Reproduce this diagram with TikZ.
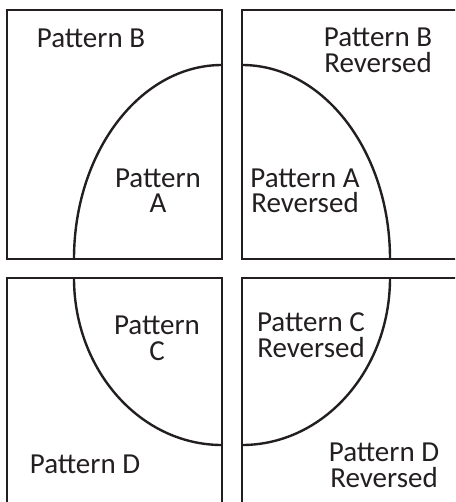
\documentclass[tikz,border=0pt]{standalone}
\usepackage{fontspec}
\setmainfont{Carlito}
\usepackage{tikz}
\definecolor{ink}{HTML}{231F20}

\begin{document}
\begin{tikzpicture}[x=1pt,y=-1pt,line width=2.4pt,draw=ink,
    lbl/.style={text=ink,inner sep=0pt,anchor=base,align=center,
      font=\fontsize{29}{25.7}\selectfont}]
      \useasboundingbox (0,0) rectangle (455,502);
      \clip (0,0) rectangle (455,502);

      % the four boxes
      \draw (7,10) rectangle (222,259);
      \draw (456,10) -- (242,10) -- (242,259) -- (456,259);
      \draw (7,503) -- (7,278) -- (222,278) -- (222,503);
      \draw (456,278) -- (242,278) -- (242,503);

      % quarter ellipses
      \draw (222,65) .. controls (140.3,65) and (74,151.9) .. (74,259);
      \draw (242,65) .. controls (323.7,65) and (390,151.9) .. (390,259);
      \draw (74,278) .. controls (74,370.2) and (140.3,445) .. (222,445);
      \draw (390,278) .. controls (390,370.2) and (323.7,445) .. (242,445);

      % labels (base = last line)
      \node[lbl] (p_b) at (91,48) {Pattern B};
      \node[lbl] (p_a) at (158,213) {Pattern\\A};
      \node[lbl] (p_br) at (378,72.5) {Pattern B\\Reversed};
      \node[lbl] (p_ar) at (305,213) {Pattern A\\Reversed};
      \node[lbl] (p_c) at (157,360) {Pattern\\C};
      \node[lbl] (p_d) at (85,473) {Pattern D};
      \node[lbl] (p_cr) at (311,357) {Pattern C\\Reversed};
      \node[lbl] (p_dr) at (384,487) {Pattern D\\Reversed};
\end{tikzpicture}
\end{document}
